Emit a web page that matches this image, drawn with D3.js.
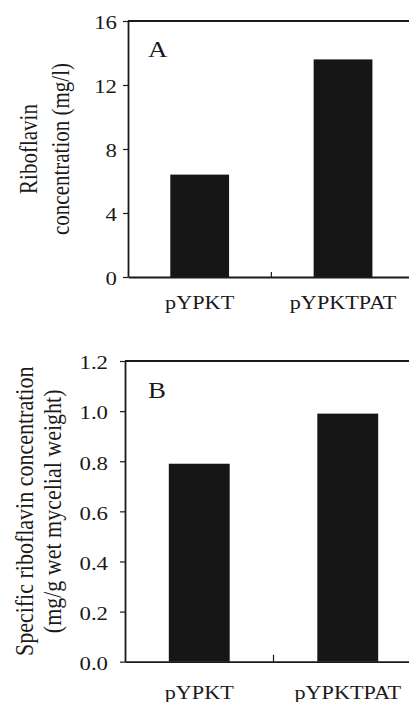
<!DOCTYPE html>
<html>
<head>
<meta charset="utf-8">
<script src="https://cdn.jsdelivr.net/npm/d3@7"></script>
<style>
  body { margin: 0; background: #fff; }
  svg { display: block; }
  text { font-family: 'Liberation Serif', 'Times New Roman', serif; }
</style>
</head>
<body>
<svg id="chart" width="409" height="702"></svg>
<script>
// data
const strains = ['pYPKT', 'pYPKTPAT'];
const riboflavinConc = [6.4, 13.6];
const specificConc = [0.79, 0.99];
const concTicks = [0, 4, 8, 12, 16];
const specificTicks = [0, 0.2, 0.4, 0.6, 0.8, 1.0, 1.2];
const panelALabel = ['Riboflavin', 'concentration (mg/l)'];
const panelBLabel = ['Specific riboflavin concentration', '(mg/g wet mycelial weight)'];

// the source figure is a bit wider than tall, so glyphs get stretched sideways
const stretch = 1.17;
const ink = '#1a1a1a';
const svg = d3.select('#chart');

function drawPanel(p) {
  const x = d3.scaleBand().domain(strains).range([p.left, p.right]).paddingInner(0.59).paddingOuter(0.295);
  const y = d3.scaleLinear().domain([0, p.max]).range([p.bottom, p.top]);
  const g = svg.append('g');

  g.selectAll('rect.bar')
    .data(p.values)
    .join('rect')
    .attr('class', 'bar')
    .attr('x', (d, i) => x(strains[i]))
    .attr('y', d => y(d))
    .attr('width', x.bandwidth())
    .attr('height', d => y(0) - y(d))
    .attr('fill', '#161616');

  // y axis
  const yAxis = g.append('g')
    .attr('transform', `translate(${p.left},0)`)
    .call(d3.axisLeft(y).tickValues(p.ticks).tickFormat(p.format).tickSize(5).tickSizeOuter(0))
    .attr('font-size', null)
    .attr('font-family', null);
  yAxis.select('.domain').attr('stroke', ink).attr('stroke-width', 1.8);
  yAxis.selectAll('.tick line').attr('stroke', ink).attr('stroke-width', 1.2);
  yAxis.selectAll('.tick text')
    .attr('x', 0)
    .attr('dy', '0.4em')
    .attr('transform', `translate(${-p.tickGap},0) scale(${stretch},1)`)
    .attr('font-size', 19.5)
    .attr('fill', ink);

  // x axis, labels only
  const xAxis = g.append('g')
    .attr('transform', `translate(0,${p.bottom})`)
    .call(d3.axisBottom(x).tickSize(0).tickSizeOuter(0))
    .attr('font-size', null)
    .attr('font-family', null);
  xAxis.select('.domain').attr('stroke', ink).attr('stroke-width', 1.8);
  xAxis.selectAll('.tick text')
    .attr('y', 0)
    .attr('dy', null)
    .attr('transform', `translate(0,${p.labelOffset}) scale(${stretch},1)`)
    .attr('font-size', 19)
    .attr('fill', ink);

  // small tick between the two bars
  const mid = (x(strains[0]) + x.bandwidth() + x(strains[1])) / 2;
  g.append('line')
    .attr('x1', mid).attr('x2', mid)
    .attr('y1', p.bottom).attr('y2', p.bottom - p.divTick)
    .attr('stroke', ink).attr('stroke-width', 1.2);

  // top frame line
  g.append('line')
    .attr('x1', p.left).attr('x2', p.right)
    .attr('y1', p.top).attr('y2', p.top)
    .attr('stroke', ink).attr('stroke-width', 1.8);

  g.append('text')
    .attr('transform', `translate(${p.letterX},${p.letterY}) scale(${stretch},1)`)
    .attr('font-size', p.letterSize)
    .attr('fill', ink)
    .text(p.letter);

  p.label.forEach((line, i) => {
    g.append('text')
      .attr('text-anchor', 'middle')
      .attr('font-size', p.labelSize)
      .attr('fill', ink)
      .attr('transform', `translate(${p.labelX[i]},${(p.top + p.bottom) / 2}) scale(${stretch},1) rotate(-90)`)
      .text(line);
  });
}

drawPanel({
  values: riboflavinConc, ticks: concTicks, max: 16, format: d3.format('d'),
  left: 128, right: 414.7, top: 21, bottom: 277,
  tickGap: 11, labelOffset: 32, divTick: 5,
  letter: 'A', letterX: 148, letterY: 57, letterSize: 23,
  label: panelALabel, labelX: [36.7, 69], labelSize: 21
});

drawPanel({
  values: specificConc, ticks: specificTicks, max: 1.2, format: d3.format('.1f'),
  left: 125, right: 422, top: 361, bottom: 661.7,
  tickGap: 17, labelOffset: 37, divTick: 7,
  letter: 'B', letterX: 148, letterY: 398, letterSize: 23,
  label: panelBLabel, labelX: [32.5, 61], labelSize: 22
});
</script>
</body>
</html>
